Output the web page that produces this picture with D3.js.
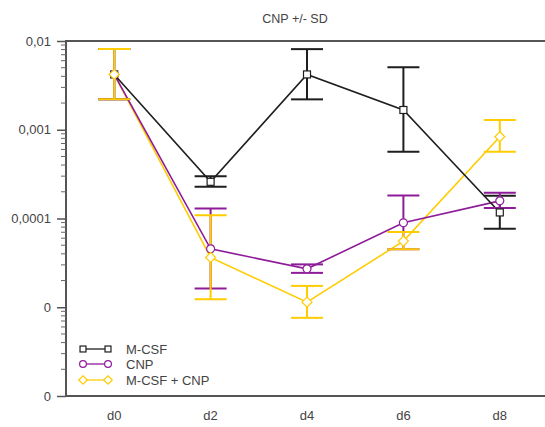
<!DOCTYPE html>
<html>
<head>
<meta charset="utf-8">
<script src="https://cdn.jsdelivr.net/npm/d3@7/dist/d3.min.js"></script>
<style>
  html, body { margin: 0; padding: 0; background: #fff; }
  svg { display: block; }
  text { font-family: Arial, "Liberation Sans", sans-serif; fill: #444; }
</style>
</head>
<body>
<script>
// Sampling days
const categories = ["d0", "d2", "d4", "d6", "d8"];

// Mean values and mean ± SD bounds per treatment
const mcsfMean  = [0.0042, 0.000259, 0.0042, 0.00167, 0.000117];
const mcsfLow   = [0.0022, 0.000228, 0.0022, 0.000565, 0.0000765];
const mcsfHigh  = [0.0081, 0.00030, 0.0081, 0.00505, 0.00018];

const cnpMean   = [0.0042, 0.0000455, 0.0000271, 0.0000895, 0.000158];
const cnpLow    = [0.0022, 0.0000163, 0.0000244, 0.0000449, 0.000131];
const cnpHigh   = [0.0081, 0.00013, 0.0000304, 0.000182, 0.000195];

const comboMean = [0.0042, 0.0000364, 0.0000114, 0.0000556, 0.000834];
const comboLow  = [0.0022, 0.0000123, 0.0000076, 0.0000449, 0.000565];
const comboHigh = [0.0081, 0.000109, 0.0000174, 0.0000703, 0.00129];

// Y axis major ticks and their printed labels
const yTicks = [0.01, 0.001, 0.0001, 0.00001, 0.000001];
const yTickLabels = ["0,01", "0,001", "0,0001", "0", "0"];

const seriesNames = ["M-CSF", "CNP", "M-CSF + CNP"];

const W = 545, H = 427;
const plotLeft = 66, plotTop = 41, plotBottom = 396, plotRight = 548;
const FONT = "Arial, 'Liberation Sans', sans-serif";

const series = [
  { name: seriesNames[0], color: "#1e1e1e", shape: "square",  mean: mcsfMean,  low: mcsfLow,  high: mcsfHigh },
  { name: seriesNames[1], color: "#8e1b98", shape: "circle",  mean: cnpMean,   low: cnpLow,   high: cnpHigh },
  { name: seriesNames[2], color: "#ffcc00", shape: "diamond", mean: comboMean, low: comboLow, high: comboHigh }
];

const svg = d3.select("body").append("svg").attr("width", W).attr("height", H);

const x = d3.scaleBand().domain(categories).range([plotLeft, plotRight]);
const cx = d => x(d) + x.bandwidth() / 2;
const y = d3.scaleLog().domain([1e-6, 1e-2]).range([plotBottom, plotTop]);

// Title
svg.append("text").attr("x", 295).attr("y", 23).attr("text-anchor", "middle")
  .attr("font-size", 12.5).text("CNP +/- SD");

// Frame: top border and bottom axis line
svg.append("line").attr("x1", plotLeft).attr("x2", W).attr("y1", plotTop).attr("y2", plotTop)
  .attr("stroke", "#555").attr("stroke-width", 2);
svg.append("line").attr("x1", plotLeft - 1).attr("x2", W).attr("y1", plotBottom).attr("y2", plotBottom)
  .attr("stroke", "#555").attr("stroke-width", 2);

// Left log axis with minor ticks
const minor = y.ticks().filter(v => !yTicks.some(t => Math.abs(t - v) / t < 1e-6));
const yAxis = d3.axisLeft(y).tickValues(yTicks).tickSize(9).tickPadding(6)
  .tickFormat((d, i) => yTickLabels[i]);
const gy = svg.append("g").attr("transform", `translate(${plotLeft},0)`).call(yAxis);
gy.select(".domain").attr("stroke", "#555").attr("stroke-width", 2)
  .attr("d", `M0,${plotTop - 1}V${plotBottom + 1}`);
gy.selectAll(".tick line").attr("stroke", "#555").attr("stroke-width", 1.5);
gy.selectAll(".tick text").attr("font-size", 13).attr("fill", "#444").attr("font-family", FONT);
gy.append("g").selectAll("line").data(minor).join("line")
  .attr("x1", -5).attr("x2", 0).attr("y1", d => y(d)).attr("y2", d => y(d))
  .attr("stroke", "#666").attr("stroke-width", 1);

// X category labels
const gx = svg.append("g").attr("transform", `translate(0,${plotBottom})`)
  .call(d3.axisBottom(x).tickSize(0).tickPadding(15));
gx.select(".domain").remove();
gx.selectAll(".tick text").attr("font-size", 13).attr("fill", "#444").attr("font-family", FONT);

// Marker drawing helper
function marker(sel, shape, color, size) {
  const k = size || 1;
  if (shape === "square") {
    sel.append("rect").attr("x", -3.5 * k).attr("y", -3.5 * k).attr("width", 7 * k).attr("height", 7 * k)
      .attr("fill", "#fff").attr("stroke", color).attr("stroke-width", 1.2);
  } else if (shape === "circle") {
    sel.append("circle").attr("r", 4 * k).attr("fill", "#fff")
      .attr("stroke", color).attr("stroke-width", 1.2);
  } else {
    sel.append("path").attr("d", `M0,${-5 * k}L${5 * k},0L0,${5 * k}L${-5 * k},0Z`).attr("fill", "#fff")
      .attr("stroke", color).attr("stroke-width", 1.2);
  }
}

const line = d3.line().x((d, i) => cx(categories[i])).y(d => y(d));

// Connecting lines
[2, 1, 0].forEach(k => {
  const s = series[k];
  svg.append("path").datum(s.mean).attr("d", line)
    .attr("fill", "none").attr("stroke", s.color).attr("stroke-width", 1.6);
});

// Error bars (mean ± SD)
const cap = 16;
[0, 1, 2].forEach(k => {
  const s = series[k];
  const g = svg.append("g").attr("stroke", s.color).attr("stroke-width", 2);
  categories.forEach((c, i) => {
    const px = cx(c);
    g.append("line").attr("x1", px).attr("x2", px).attr("y1", y(s.high[i])).attr("y2", y(s.low[i]));
    g.append("line").attr("x1", px - cap).attr("x2", px + cap).attr("y1", y(s.high[i])).attr("y2", y(s.high[i]));
    g.append("line").attr("x1", px - cap).attr("x2", px + cap).attr("y1", y(s.low[i])).attr("y2", y(s.low[i]));
  });
});

// Markers
[0, 1, 2].forEach(k => {
  const s = series[k];
  s.mean.forEach((v, i) => {
    const g = svg.append("g").attr("transform", `translate(${cx(categories[i])},${y(v)})`);
    marker(g, s.shape, s.color);
  });
});

// Legend
const legendY = [349, 364, 380];
series.forEach((s, k) => {
  const g = svg.append("g").attr("transform", `translate(0,${legendY[k]})`);
  g.append("line").attr("x1", 83).attr("x2", 108).attr("y1", 0).attr("y2", 0)
    .attr("stroke", s.color).attr("stroke-width", 1.3);
  [83, 108].forEach(lx => {
    const m = g.append("g").attr("transform", `translate(${lx},0)`);
    marker(m, s.shape, s.color, 0.85);
  });
  g.append("text").attr("x", 126).attr("y", 4.5).attr("font-size", 13).text(s.name);
});
</script>
</body>
</html>
